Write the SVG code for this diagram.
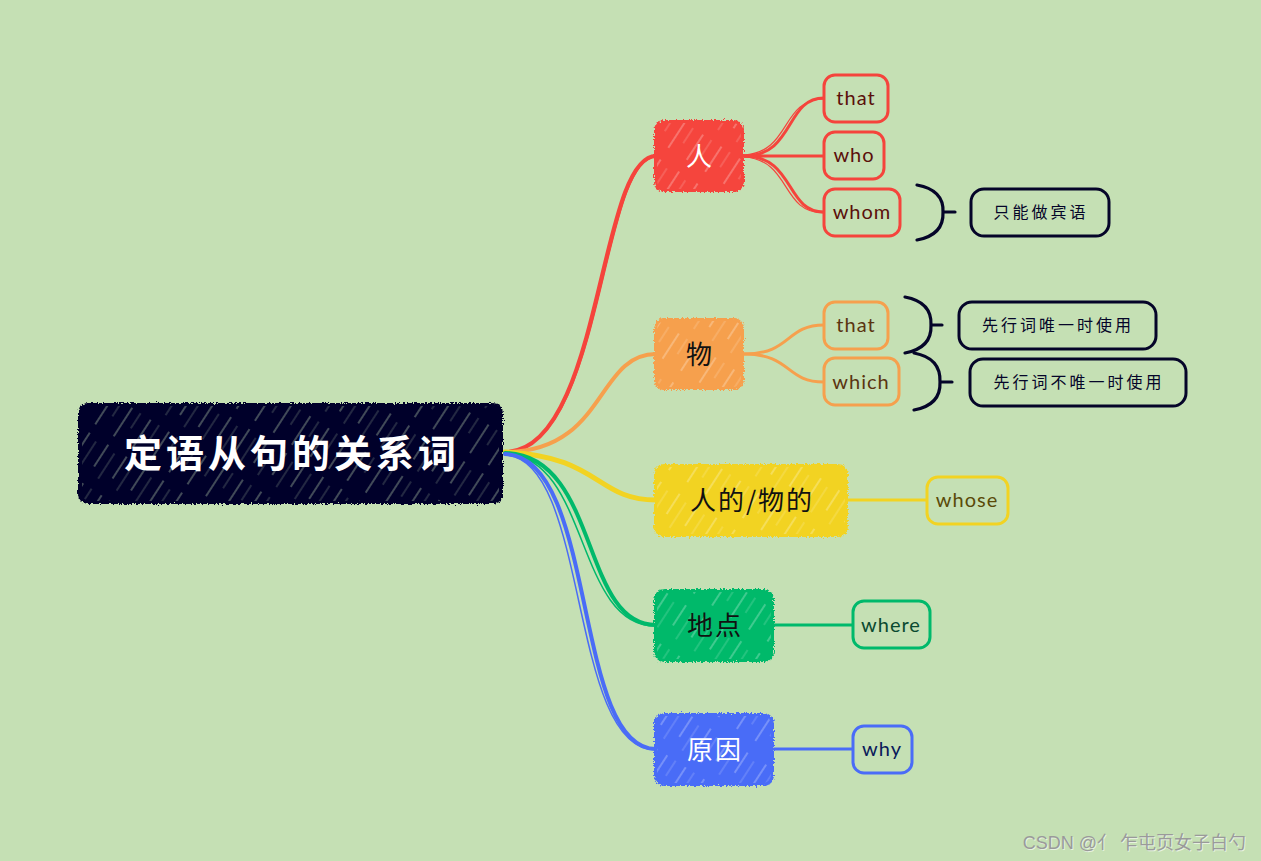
<svg xmlns="http://www.w3.org/2000/svg" width="1261" height="861" viewBox="0 0 1261 861">
<defs>
<style>
.cn{font-family:"Noto Sans CJK SC","Noto Sans",sans-serif;}
.en{font-family:"Lato","Open Sans","Noto Sans",sans-serif;font-size:20px;letter-spacing:1px;}
.bt{font-family:"Noto Sans CJK SC","Noto Sans",sans-serif;font-size:26px;letter-spacing:2px;}
.leaf{fill:#c5e0b4;stroke-width:3;}
.conn{fill:none;stroke-linecap:round;}
.brk{fill:none;stroke:#050529;stroke-width:3.2;stroke-linecap:round;}
.call{fill:#c5e0b4;stroke:#050529;stroke-width:3;}
.calltxt{font-family:"Noto Sans CJK SC","Noto Sans",sans-serif;font-size:16px;letter-spacing:3px;fill:#050529;}
.wm{font-family:"Liberation Sans","Noto Sans CJK SC",sans-serif;font-size:18px;}
</style>
<pattern id="hatchL" width="22" height="90" patternUnits="userSpaceOnUse" patternTransform="rotate(33)">
<line x1="3" y1="0" x2="3" y2="90" stroke="#c5e0b4" stroke-opacity="0.6" stroke-width="1.1" stroke-dasharray="34 10 26 20"/>
<line x1="13" y1="0" x2="13" y2="90" stroke="#c5e0b4" stroke-opacity="0.4" stroke-width="0.9" stroke-dasharray="18 30 30 12"/>
</pattern>
<pattern id="hatchW" width="22" height="90" patternUnits="userSpaceOnUse" patternTransform="rotate(33)">
<line x1="3" y1="0" x2="3" y2="90" stroke="#ffffff" stroke-opacity="0.45" stroke-width="1.1" stroke-dasharray="30 14 24 22"/>
<line x1="13" y1="0" x2="13" y2="90" stroke="#ffffff" stroke-opacity="0.3" stroke-width="0.9" stroke-dasharray="18 30 30 12"/>
</pattern>
<filter id="rough" x="-5%" y="-10%" width="110%" height="120%">
<feTurbulence type="fractalNoise" baseFrequency="0.55" numOctaves="2" seed="3" result="n"/>
<feDisplacementMap in="SourceGraphic" in2="n" scale="5" xChannelSelector="R" yChannelSelector="G"/>
</filter>
</defs>
<rect width="1261" height="861" fill="#c5e0b4"/>

<g id="connectors">
<path class="conn" d="M505,452 C602,452 598,156 656,156" stroke="#f5443c" stroke-width="4"/>
<path class="conn" d="M505,452 C604,452 600,158 656,157" stroke="#f5443c" stroke-width="1.5"/>
<path class="conn" d="M505,452 C606,452 596,354 656,354" stroke="#f6a04d" stroke-width="4"/>
<path class="conn" d="M505,452 C600,456 596,500 656,500" stroke="#f2d322" stroke-width="5"/>
<path class="conn" d="M505,453 C600,455 580,625 656,625" stroke="#00b96b" stroke-width="4"/>
<path class="conn" d="M505,454 C590,456 575,627 656,626" stroke="#00b96b" stroke-width="1.5"/>
<path class="conn" d="M505,454 C598,456 572,749 656,749" stroke="#4a6cf7" stroke-width="4"/>
<path class="conn" d="M505,455 C590,458 568,751 656,750" stroke="#4a6cf7" stroke-width="1.5"/>

<path class="conn" d="M744,156 C795,156 785,98 824,98" stroke="#f5443c" stroke-width="3"/>
<path class="conn" d="M744,156 L824,156" stroke="#f5443c" stroke-width="3"/>
<path class="conn" d="M744,156 C795,156 785,212 824,212" stroke="#f5443c" stroke-width="3"/>
<path class="conn" d="M744,155 C792,152 780,99 824,99" stroke="#f5443c" stroke-width="1.2"/>
<path class="conn" d="M744,157 C792,160 780,213 824,213" stroke="#f5443c" stroke-width="1.2"/>

<path class="conn" d="M744,354 C792,354 785,325 824,325" stroke="#f6a04d" stroke-width="3"/>
<path class="conn" d="M744,354 C792,354 785,382 824,382" stroke="#f6a04d" stroke-width="3"/>

<path class="conn" d="M848,500 L927,500" stroke="#f2d322" stroke-width="3"/>
<path class="conn" d="M774,625 L853,625" stroke="#00b96b" stroke-width="3"/>
<path class="conn" d="M774,749 L853,749" stroke="#4a6cf7" stroke-width="3"/>
</g>

<g id="root">
<rect x="78" y="403" width="425" height="101" rx="10" fill="#050529" filter="url(#rough)"/>
<rect x="82" y="406" width="417" height="95" rx="8" fill="url(#hatchL)"/>
<text x="292" y="467" text-anchor="middle" class="cn" font-size="38" font-weight="bold" fill="#ffffff" letter-spacing="4">定语从句的关系词</text>
</g>

<g id="n-ren">
<rect x="654" y="120" width="90" height="72" rx="10" fill="#f5443c" filter="url(#rough)"/>
<rect x="657" y="123" width="84" height="66" rx="8" fill="url(#hatchW)"/>
<text x="700" y="166" text-anchor="middle" class="bt" fill="#ffffff">人</text>
</g>
<g id="n-wu">
<rect x="654" y="318" width="90" height="72" rx="10" fill="#f6a04d" filter="url(#rough)"/>
<rect x="657" y="321" width="84" height="66" rx="8" fill="url(#hatchW)"/>
<text x="700" y="364" text-anchor="middle" class="bt" fill="#111111">物</text>
</g>
<g id="n-de">
<rect x="654" y="464" width="194" height="73" rx="10" fill="#f2d322" filter="url(#rough)"/>
<rect x="657" y="467" width="188" height="67" rx="8" fill="url(#hatchW)"/>
<text x="752" y="510" text-anchor="middle" class="bt" fill="#111111">人的/物的</text>
</g>
<g id="n-didian">
<rect x="654" y="589" width="120" height="73" rx="10" fill="#00b96b" filter="url(#rough)"/>
<rect x="657" y="592" width="114" height="67" rx="8" fill="url(#hatchW)"/>
<text x="715" y="635" text-anchor="middle" class="bt" fill="#111111">地点</text>
</g>
<g id="n-yuanyin">
<rect x="654" y="713" width="120" height="73" rx="10" fill="#4a6cf7" filter="url(#rough)"/>
<rect x="657" y="716" width="114" height="67" rx="8" fill="url(#hatchW)"/>
<text x="715" y="759" text-anchor="middle" class="bt" fill="#ffffff">原因</text>
</g>

<g id="l-that1">
<rect x="824" y="75" width="64" height="47" rx="11" class="leaf" stroke="#f5443c"/>
<text x="856" y="105" text-anchor="middle" class="en" fill="#5a0f0a">that</text>
</g>
<g id="l-who">
<rect x="824" y="132" width="60" height="47" rx="11" class="leaf" stroke="#f5443c"/>
<text x="854" y="162" text-anchor="middle" class="en" fill="#5a0f0a">who</text>
</g>
<g id="l-whom">
<rect x="824" y="189" width="76" height="47" rx="11" class="leaf" stroke="#f5443c"/>
<text x="862" y="219" text-anchor="middle" class="en" fill="#5a0f0a">whom</text>
</g>
<g id="l-that2">
<rect x="824" y="302" width="64" height="47" rx="11" class="leaf" stroke="#f6a04d"/>
<text x="856" y="332" text-anchor="middle" class="en" fill="#5a3410">that</text>
</g>
<g id="l-which">
<rect x="824" y="358" width="75" height="47" rx="11" class="leaf" stroke="#f6a04d"/>
<text x="861" y="389" text-anchor="middle" class="en" fill="#5a3410">which</text>
</g>
<g id="l-whose">
<rect x="927" y="477" width="81" height="47" rx="11" class="leaf" stroke="#f2d322"/>
<text x="967" y="507" text-anchor="middle" class="en" fill="#5a4a08">whose</text>
</g>
<g id="l-where">
<rect x="853" y="601" width="77" height="47" rx="11" class="leaf" stroke="#00b96b"/>
<text x="891" y="632" text-anchor="middle" class="en" fill="#0a4a30">where</text>
</g>
<g id="l-why">
<rect x="853" y="726" width="59" height="47" rx="11" class="leaf" stroke="#4a6cf7"/>
<text x="882" y="756" text-anchor="middle" class="en" fill="#0a1a5a">why</text>
</g>

<g id="callouts">
<path class="brk" d="M917,185 Q944,190 943,212 Q944,235 917,240 M943,212 L955,212"/>
<path class="brk" d="M905,297 Q932,302 931,325 Q932,348 905,353 M931,325 L942,325"/>
<path class="brk" d="M914,353 Q941,358 940,382 Q941,405 914,410 M940,382 L952,382"/>
</g>
<g id="c-1">
<rect x="971" y="189" width="138" height="47" rx="13" class="call"/>
<text x="1041" y="218" text-anchor="middle" class="calltxt">只能做宾语</text>
</g>
<g id="c-2">
<rect x="959" y="302" width="197" height="47" rx="13" class="call"/>
<text x="1058" y="331" text-anchor="middle" class="calltxt">先行词唯一时使用</text>
</g>
<g id="c-3">
<rect x="970" y="359" width="216" height="47" rx="13" class="call"/>
<text x="1079" y="388" text-anchor="middle" class="calltxt">先行词不唯一时使用</text>
</g>

<g id="watermark">
<text x="1246" y="849" text-anchor="end" class="wm" fill="#ffffff" fill-opacity="0.6" dx="1" dy="1">CSDN @亻 乍屯页女子白勺</text>
<text x="1246" y="849" text-anchor="end" class="wm" fill="#9a9a9a">CSDN @亻 乍屯页女子白勺</text>
</g>
</svg>
